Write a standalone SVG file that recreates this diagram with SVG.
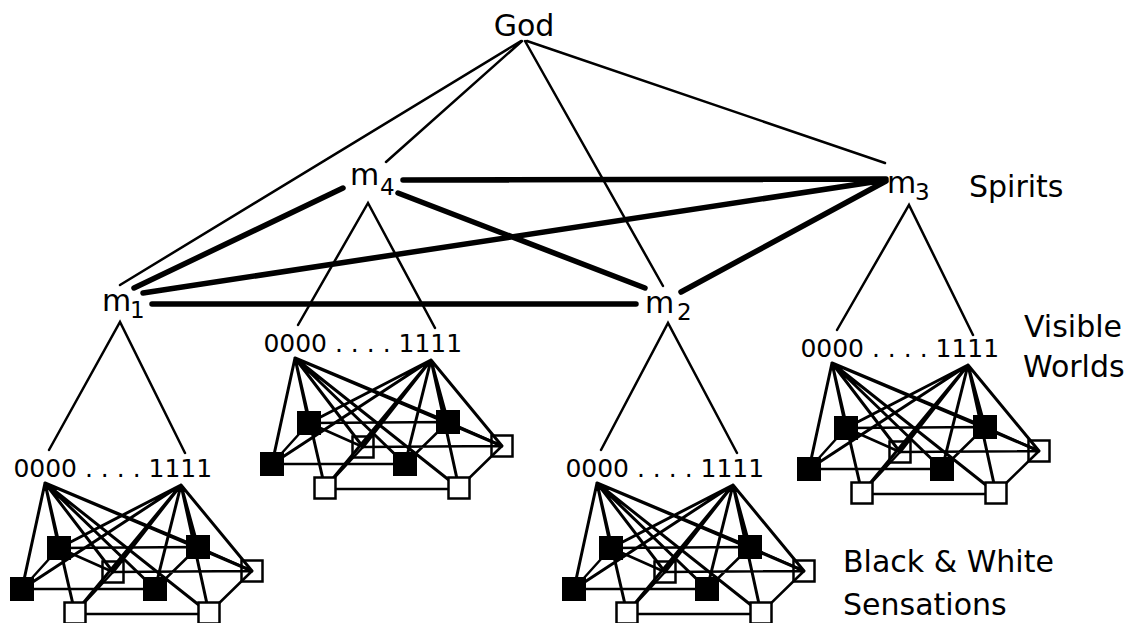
<svg xmlns="http://www.w3.org/2000/svg" xmlns:xlink="http://www.w3.org/1999/xlink" width="1140" height="623" viewBox="0 0 1140 623">
<style>
text{font-family:"DejaVu Sans","Liberation Sans",sans-serif;fill:#000}
.lbl{font-size:30px}
.sub{font-size:23px}
.bits{font-size:25px}
.thin{stroke:#000;stroke-width:2.5;fill:none;stroke-linecap:round}
.thick{stroke:#000;stroke-width:5.5;fill:none;stroke-linecap:round}
.hub{stroke:#000;stroke-width:3;fill:none;stroke-linecap:round}
.edge{stroke:#000;stroke-width:2.5;fill:none}
.bk{fill:#000}
.wh{fill:#fff;stroke:#000;stroke-width:2.5}
</style>
<defs>
<path id="hubs" class="hub" d="M30,6L44,71M30,6L183,70M30,6L7,112M30,6L140,112M30,6L98,95M30,6L60,136M30,6L194,136M30,6L237,94M166,8L44,71M166,8L183,70M166,8L7,112M166,8L140,112M166,8L98,95M166,8L60,136M166,8L194,136M166,8L237,94"/>
<path id="edges" class="edge" d="M44,71L183,70M7,112L140,112M98,95L237,94M60,137L194,137M44,71L7,112M183,70L140,112M98,95L60,136M194,136L237,94M183,70L237,94M44,71L98,95"/>
</defs>
<rect width="1140" height="623" fill="#fff"/>

<!-- back white squares (under lines) -->
<g id="back-squares">
<g transform="translate(15,477)"><rect class="wh" x="87.5" y="84.5" width="21" height="21"/><rect class="wh" x="226.5" y="83.5" width="21" height="21"/></g>
<g transform="translate(265,352)"><rect class="wh" x="87.5" y="84.5" width="21" height="21"/><rect class="wh" x="226.5" y="83.5" width="21" height="21"/></g>
<g transform="translate(567,477)"><rect class="wh" x="87.5" y="84.5" width="21" height="21"/><rect class="wh" x="226.5" y="83.5" width="21" height="21"/></g>
<g transform="translate(802,357)"><rect class="wh" x="87.5" y="84.5" width="21" height="21"/><rect class="wh" x="226.5" y="83.5" width="21" height="21"/></g>
</g>

<g id="connectors">
<!-- God to spirits -->
<path class="thin" d="M521,41L120,285M522,41L386,162M525,41L663,286M527,41L885,163"/>
<!-- spirit to spirit -->
<path class="thick" d="M403,180L886,179M398,193L645,288M343,188L134,288M886,180L143,293M886,181L681,292M152,304L636,304"/>
<!-- spirits to visible worlds -->
<path class="thin" d="M49,450L120,322L185,453M298,325L368,203L435,328M601,450L668,323L737,453M837,330L909,205L973,335"/>
<!-- worlds to sensations -->
<g transform="translate(15,477)"><use xlink:href="#hubs"/><use xlink:href="#edges"/></g>
<g transform="translate(265,352)"><use xlink:href="#hubs"/><use xlink:href="#edges"/></g>
<g transform="translate(567,477)"><use xlink:href="#hubs"/><use xlink:href="#edges"/></g>
<g transform="translate(802,357)"><use xlink:href="#hubs"/><use xlink:href="#edges"/></g>
</g>

<g id="god"><text class="lbl" x="524" y="36" text-anchor="middle">God</text></g>
<g id="m1"><text class="lbl" x="102" y="311">m<tspan class="sub" x="130" y="318">1</tspan></text></g>
<g id="m2"><text class="lbl" x="645" y="313">m<tspan class="sub" x="677" y="320">2</tspan></text></g>
<g id="m3"><text class="lbl" x="887" y="193">m<tspan class="sub" x="915" y="200">3</tspan></text></g>
<g id="m4"><text class="lbl" x="350" y="185">m<tspan class="sub" x="380" y="195">4</tspan></text></g>

<g id="world1" transform="translate(15,477)">
<text class="bits" x="-1.6" y="0">0000 . . . . 1111</text>
<rect class="bk" x="32" y="59" width="24" height="24"/><rect class="bk" x="171" y="58" width="24" height="24"/>
<rect class="bk" x="-5" y="100" width="24" height="24"/><rect class="bk" x="128" y="100" width="24" height="24"/>
<rect class="wh" x="49.5" y="125.5" width="21" height="21"/><rect class="wh" x="183.5" y="125.5" width="21" height="21"/>
</g>
<g id="world2" transform="translate(265,352)">
<text class="bits" x="-1.6" y="0">0000 . . . . 1111</text>
<rect class="bk" x="32" y="59" width="24" height="24"/><rect class="bk" x="171" y="58" width="24" height="24"/>
<rect class="bk" x="-5" y="100" width="24" height="24"/><rect class="bk" x="128" y="100" width="24" height="24"/>
<rect class="wh" x="49.5" y="125.5" width="21" height="21"/><rect class="wh" x="183.5" y="125.5" width="21" height="21"/>
</g>
<g id="world3" transform="translate(567,477)">
<text class="bits" x="-1.6" y="0">0000 . . . . 1111</text>
<rect class="bk" x="32" y="59" width="24" height="24"/><rect class="bk" x="171" y="58" width="24" height="24"/>
<rect class="bk" x="-5" y="100" width="24" height="24"/><rect class="bk" x="128" y="100" width="24" height="24"/>
<rect class="wh" x="49.5" y="125.5" width="21" height="21"/><rect class="wh" x="183.5" y="125.5" width="21" height="21"/>
</g>
<g id="world4" transform="translate(802,357)">
<text class="bits" x="-1.6" y="0">0000 . . . . 1111</text>
<rect class="bk" x="32" y="59" width="24" height="24"/><rect class="bk" x="171" y="58" width="24" height="24"/>
<rect class="bk" x="-5" y="100" width="24" height="24"/><rect class="bk" x="128" y="100" width="24" height="24"/>
<rect class="wh" x="49.5" y="125.5" width="21" height="21"/><rect class="wh" x="183.5" y="125.5" width="21" height="21"/>
</g>

<g id="labels">
<text class="lbl" x="969" y="197">Spirits</text>
<text class="lbl" x="1024" y="337">Visible</text>
<text class="lbl" x="1023" y="377">Worlds</text>
<text class="lbl" x="843" y="572">Black &amp; White</text>
<text class="lbl" x="843" y="615">Sensations</text>
</g>
</svg>
